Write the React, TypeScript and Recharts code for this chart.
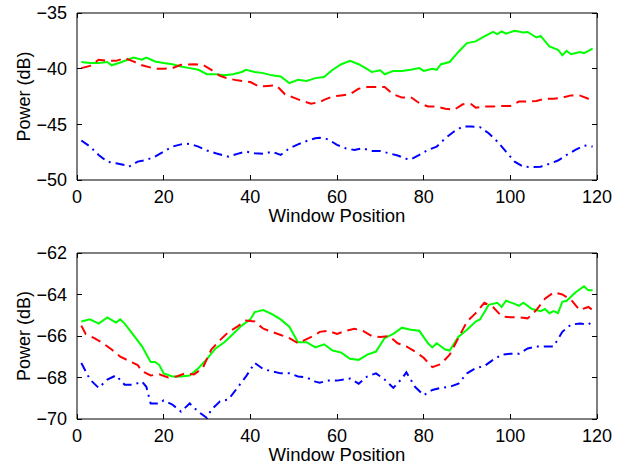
import React from 'react';
import { LineChart, Line, XAxis, YAxis, CartesianGrid } from 'recharts';

// ---------- data ----------
const xTicks = [0, 20, 40, 60, 80, 100, 120];
const topYTicks = [-50, -45, -40, -35];
const bottomYTicks = [-70, -68, -66, -64, -62];

const topGreenX = [1,3,5,7,8,10,13,15,16,18,20,22,24,26,28,30,32,34,36,38,39,41,43,45,47,49,51,53,55,57,59,61,63,65,67,68,70,71,73,75,77,79,80,82,83,84,86,88,90,92,94,96,97,98,99,101,103,104,106,107,109,111,112,113,114,116,117,118,119];
const topGreenY = [-39.4,-39.5,-39.5,-39.4,-39.7,-39.45,-39.0,-39.2,-39.0,-39.35,-39.5,-39.6,-39.8,-39.95,-40.1,-40.5,-40.5,-40.6,-40.5,-40.3,-40.1,-40.3,-40.4,-40.6,-40.7,-41.3,-41.0,-41.1,-40.85,-40.75,-40.1,-39.6,-39.3,-39.6,-40.05,-40.3,-40.15,-40.5,-40.2,-40.2,-40.1,-39.95,-40.2,-40.0,-40.1,-39.6,-39.4,-38.5,-37.7,-37.55,-37.1,-36.7,-36.9,-36.65,-36.85,-36.6,-36.75,-36.7,-37.2,-37.05,-38.0,-38.3,-38.8,-38.4,-38.7,-38.5,-38.6,-38.4,-38.2];

const topRedX = [1,3,5,7,9,11,13,15,18,20,22,24,27,29,31,33,35,37,40,42,44,46,48,50,52,54,56,57,59,61,63,65,67,69,71,73,75,77,79,81,83,85,87,89,91,92,94,96,98,100,102,104,106,108,110,112,114,116,118,119];
const topRedY = [-39.95,-39.75,-39.2,-39.3,-39.3,-39.05,-39.35,-39.7,-40.0,-40.0,-39.95,-39.65,-39.6,-39.65,-40.1,-40.65,-40.9,-41.05,-41.2,-41.6,-41.55,-41.5,-42.3,-42.6,-42.9,-43.15,-43.0,-42.8,-42.5,-42.4,-42.3,-41.8,-41.65,-41.65,-41.65,-42.3,-42.6,-42.55,-43.1,-43.4,-43.4,-43.6,-43.7,-43.2,-43.2,-43.5,-43.4,-43.4,-43.35,-43.35,-42.95,-42.95,-42.9,-42.7,-42.7,-42.6,-42.4,-42.4,-42.7,-42.8];

const topBlueX = [1,3,5,7,9,11,12,14,16,18,20,22,24,26,28,30,32,35,37,39,41,43,45,47,49,51,53,55,56,58,60,62,64,66,68,70,72,74,76,77,79,81,83,85,87,89,91,93,95,97,99,101,103,105,107,109,111,113,115,117,119];
const topBlueY = [-46.45,-47.0,-47.75,-48.35,-48.5,-48.65,-48.8,-48.35,-48.2,-47.9,-47.45,-47.0,-46.8,-46.75,-47.0,-47.35,-47.6,-47.9,-47.65,-47.45,-47.6,-47.65,-47.45,-47.75,-47.15,-46.8,-46.5,-46.25,-46.2,-46.35,-46.85,-47.15,-47.3,-47.15,-47.4,-47.4,-47.6,-47.8,-48.1,-48.15,-47.75,-47.3,-47.0,-46.25,-45.65,-45.2,-45.2,-45.25,-45.8,-46.55,-47.45,-48.35,-48.8,-48.85,-48.8,-48.55,-48.25,-47.75,-47.3,-46.9,-47.0];

const botGreenX = [1,3,5,7,9,10,11,13,15,17,18,19,20,22,24,26,28,30,32,34,36,38,40,41,43,45,47,49,51,53,55,57,59,61,63,65,67,69,71,73,75,77,79,81,82,83,85,86,88,90,92,93,95,97,98,99,101,102,103,105,107,108,109,110,111,112,113,115,117,118,119];
const botGreenY = [-65.3,-65.2,-65.4,-65.1,-65.35,-65.2,-65.4,-65.95,-66.5,-67.25,-67.25,-67.4,-67.8,-67.95,-67.95,-67.9,-67.55,-67.1,-66.6,-66.3,-65.9,-65.5,-65.2,-64.85,-64.75,-64.95,-65.2,-65.55,-66.3,-66.3,-66.55,-66.4,-66.7,-66.8,-67.1,-67.15,-66.9,-66.75,-66.1,-65.9,-65.6,-65.7,-65.75,-66.35,-66.55,-66.35,-66.65,-66.7,-66.05,-65.7,-65.3,-65.2,-64.5,-64.4,-64.6,-64.3,-64.45,-64.55,-64.4,-64.7,-64.8,-64.7,-64.9,-64.8,-64.9,-64.35,-64.3,-63.9,-63.6,-63.8,-63.8];

const botRedX = [1,2,4,6,8,10,12,14,15,17,19,21,23,25,27,29,31,33,35,37,39,41,43,45,47,49,51,53,55,56,58,60,62,64,66,68,70,72,74,76,78,80,82,84,86,88,90,92,94,96,98,100,102,104,106,108,110,112,114,116,118,119];
const botRedY = [-65.5,-65.9,-66.1,-66.35,-66.65,-67.0,-67.2,-67.4,-67.7,-67.9,-67.85,-68.0,-67.95,-67.8,-67.85,-67.55,-66.65,-66.2,-65.8,-65.55,-65.25,-65.3,-65.65,-65.8,-65.95,-66.1,-66.35,-66.15,-65.95,-65.8,-65.75,-65.9,-65.75,-65.65,-65.75,-66.0,-66.05,-66.0,-66.35,-66.5,-66.75,-67.05,-67.5,-67.35,-66.9,-66.1,-65.3,-64.9,-64.4,-64.6,-65.05,-65.1,-65.1,-65.15,-64.75,-64.2,-63.9,-64.0,-64.25,-64.75,-64.6,-64.75];

const botBlueX = [1,3,5,7,9,11,13,15,16,17,19,20,22,24,26,28,30,31,33,35,37,39,41,43,45,47,49,51,53,55,56,58,60,63,65,67,69,71,73,75,76,78,80,82,84,86,88,90,92,94,96,98,100,102,104,106,108,110,112,114,116,118,119];
const botBlueY = [-67.3,-68.1,-68.5,-68.1,-67.9,-68.35,-68.35,-68.2,-68.45,-69.25,-69.25,-69.1,-69.3,-69.65,-69.25,-69.65,-69.95,-69.55,-69.15,-69.05,-68.5,-67.95,-67.3,-67.6,-67.7,-67.8,-67.8,-67.95,-68.0,-68.2,-68.25,-68.15,-68.15,-68.05,-68.3,-67.95,-67.8,-68.1,-68.5,-68.05,-67.75,-68.45,-68.85,-68.6,-68.5,-68.45,-68.3,-67.8,-67.55,-67.45,-67.15,-66.9,-66.85,-66.85,-66.6,-66.5,-66.5,-66.5,-65.8,-65.45,-65.4,-65.45,-65.3];

// ---------- helpers ----------
const pts = (xs: number[], ys: number[]) => xs.map((x, i) => ({ x, y: ys[i] }));
const fmt = (v: number) => (v < 0 ? '\u2212' + Math.abs(v) : String(v));
const FONT = '"Liberation Sans", Arial, Helvetica, sans-serif';
const FS = 18;

const GREEN = '#00ff00';
const RED = '#ff0000';
const BLUE = '#0000ff';

const CHART_W = 628;
const Y_AXIS_W = 77;
const RIGHT_M = 31;
const PLOT_W = CHART_W - Y_AXIS_W - RIGHT_M;
const TICK_LEN = 5;
const GAP = 10;

type Series = { xs: number[]; ys: number[]; color: string; dash?: string };

const Bar = (p: { x: number; y: number; w: number; h: number }) => (
  <rect x={p.x} y={p.y} width={p.w} height={p.h} fill="#000" stroke="none" shapeRendering="crispEdges" />
);

function makeXTick(plotH: number) {
  return (p: any) => {
    const { x, y, payload } = p;
    const ay = y - GAP;
    const top = ay - plotH;
    return (
      <g>
        <Bar x={x - 0.5} y={ay - TICK_LEN} w={1} h={TICK_LEN} />
        <Bar x={x - 0.5} y={top} w={1} h={TICK_LEN} />
        <text x={x} y={y} dy="0.71em" textAnchor="middle" fontFamily={FONT} fontSize={FS} fill="#000">
          {String(payload.value)}
        </text>
      </g>
    );
  };
}

function YTick(p: any) {
  const { x, y, payload } = p;
  const ax = x + GAP;
  return (
    <g>
      <Bar x={ax} y={y - 0.5} w={TICK_LEN} h={1} />
      <Bar x={ax + PLOT_W - TICK_LEN} y={y - 0.5} w={TICK_LEN} h={1} />
      <text x={x} y={y} dy="0.355em" textAnchor="end" fontFamily={FONT} fontSize={FS} fill="#000">
        {fmt(payload.value)}
      </text>
    </g>
  );
}

function Panel(props: {
  height: number;
  top: number;
  xAxisHeight: number;
  labelOffset: number;
  yDomain: [number, number];
  yTicks: number[];
  series: Series[];
}) {
  const { height, top, xAxisHeight, labelOffset, yDomain, yTicks, series } = props;
  const plotH = height - top - xAxisHeight;
  return (
    <LineChart width={CHART_W} height={height} margin={{ top, right: RIGHT_M, bottom: 0, left: 0 }}>
      <CartesianGrid
        xAxisId="b"
        yAxisId="l"
        stroke="#000"
        strokeOpacity={1}
        fill="none"
        horizontalPoints={[top]}
        verticalPoints={[Y_AXIS_W + PLOT_W]}
      />
      <XAxis
        xAxisId="b"
        type="number"
        dataKey="x"
        domain={[0, 120]}
        ticks={xTicks}
        interval={0}
        allowDataOverflow
        height={xAxisHeight}
        stroke="#000"
        tickLine={false}
        tickSize={0}
        tickMargin={GAP}
        tick={makeXTick(plotH)}
        label={{
          value: 'Window Position',
          position: 'insideBottom',
          offset: labelOffset,
          style: { fontFamily: FONT, fontSize: 18.5, fill: '#000' },
        }}
      />
      <YAxis
        yAxisId="l"
        type="number"
        domain={yDomain}
        ticks={yTicks}
        interval={0}
        allowDataOverflow
        width={Y_AXIS_W}
        stroke="#000"
        tickLine={false}
        tickSize={0}
        tickMargin={GAP}
        tick={YTick}
        label={{
          content: (p: any) => {
            const vb = p.viewBox || { y: 0, height: 0 };
            const cy = vb.y + vb.height / 2;
            return (
              <text
                x={24}
                y={cy}
                transform={`rotate(-90 24 ${cy})`}
                textAnchor="middle"
                dominantBaseline="central"
                style={{ fontFamily: FONT, fontSize: FS, fill: '#000' }}
              >
                Power (dB)
              </text>
            );
          },
        }}
      />
      {series.map((s, i) => (
        <Line
          key={i}
          xAxisId="b"
          yAxisId="l"
          data={pts(s.xs, s.ys)}
          dataKey="y"
          type="linear"
          stroke={s.color}
          strokeWidth={2}
          strokeDasharray={s.dash}
          dot={false}
          activeDot={false}
          isAnimationActive={false}
        />
      ))}
    </LineChart>
  );
}

export default function App() {
  return (
    <div style={{ position: 'absolute', left: 0, top: 0, width: 628, height: 465, background: '#fff' }}>
      <Panel
        height={232}
        top={13}
        xAxisHeight={52}
        labelOffset={10}
        yDomain={[-50, -35]}
        yTicks={topYTicks}
        series={[
          { xs: topGreenX, ys: topGreenY, color: GREEN },
          { xs: topRedX, ys: topRedY, color: RED, dash: '10 6' },
          { xs: topBlueX, ys: topBlueY, color: BLUE, dash: '9 5 2 5' },
        ]}
      />
      <Panel
        height={233}
        top={21}
        xAxisHeight={46}
        labelOffset={4}
        yDomain={[-70, -62]}
        yTicks={bottomYTicks}
        series={[
          { xs: botGreenX, ys: botGreenY, color: GREEN },
          { xs: botRedX, ys: botRedY, color: RED, dash: '10 6' },
          { xs: botBlueX, ys: botBlueY, color: BLUE, dash: '9 5 2 5' },
        ]}
      />
    </div>
  );
}
